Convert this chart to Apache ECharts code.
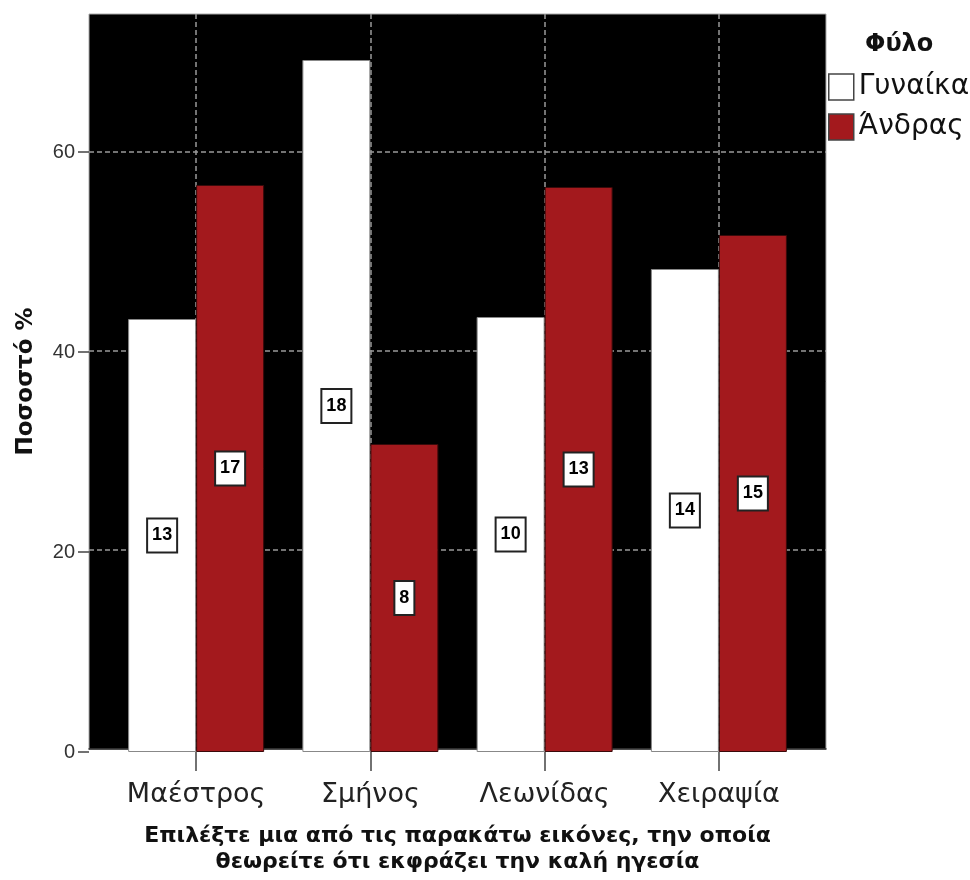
<!DOCTYPE html>
<html>
<head>
<meta charset="utf-8">
<script src="https://cdn.jsdelivr.net/npm/echarts@6/dist/echarts.min.js"></script>
<style>
  html, body { margin: 0; padding: 0; background: #fff; }
  #chart { width: 970px; height: 880px; }
</style>
</head>
<body>
<div id="chart"></div>
<script>
// Categories on the x axis
const categories = ['Μαέστρος', 'Σμήνος', 'Λεωνίδας', 'Χειραψία'];
// Series names
const seriesNames = ['Γυναίκα', 'Άνδρας'];
// Percentage within each category
const womenPct = [43.3, 69.2, 43.5, 48.3];
const menPct = [56.7, 30.8, 56.5, 51.7];
// Counts shown in the bar labels
const womenCount = [13, 18, 10, 14];
const menCount = [17, 8, 13, 15];
// Y axis range and tick values
const yMin = 0;
const yMax = 73.8;
const yStep = 20;
const yTicks = [0, 20, 40, 60];

const FONT = 'DejaVu Sans';
const RED = '#a3191d';
const GRID_LINE = { color: '#999', type: [5, 3], width: 1.5 };

const countLabel = (counts) => ({
  show: true,
  position: 'inside',
  formatter: (p) => String(counts[p.dataIndex]),
  fontFamily: 'Liberation Sans',
  fontWeight: 'bold',
  fontSize: 18,
  color: '#000',
  backgroundColor: '#fff',
  borderColor: '#222',
  borderWidth: 2,
  padding: [8, 4, 6, 4]
});

const chart = echarts.init(document.getElementById('chart'), null, { renderer: 'canvas' });

chart.setOption({
  animation: false,
  backgroundColor: '#fff',
  title: {
    text: 'Φύλο',
    left: 860,
    top: 28,
    textStyle: { fontFamily: FONT, fontWeight: 'bold', fontSize: 24, color: '#111' }
  },
  legend: {
    orient: 'vertical',
    left: 828,
    top: 73,
    padding: 0,
    itemWidth: 25,
    itemHeight: 26,
    itemGap: 12,
    icon: 'rect',
    data: seriesNames,
    itemStyle: { borderColor: '#444', borderWidth: 1.5 },
    textStyle: { fontFamily: FONT, fontSize: 28, color: '#111' }
  },
  grid: [
    // black plot frame
    { left: 89, top: 14, width: 737, height: 738, show: true, backgroundColor: '#000',
      borderColor: '#aaa', borderWidth: 1, containLabel: false },
    // data area, inset by 20px on each side of the frame
    { left: 109, top: 14, width: 697, height: 738, containLabel: false }
  ],
  xAxis: [
    {
      gridIndex: 0, type: 'value', min: 0, max: 1,
      axisLine: { show: true, onZero: false, lineStyle: { color: '#222', width: 1.5 } },
      axisTick: { show: false }, axisLabel: { show: false }, splitLine: { show: false },
      name: 'Επιλέξτε μια από τις παρακάτω εικόνες, την οποία\nθεωρείτε ότι εκφράζει την καλή ηγεσία',
      nameLocation: 'middle',
      nameGap: 74,
      nameTextStyle: { fontFamily: FONT, fontWeight: 'bold', fontSize: 22, color: '#111', lineHeight: 26 }
    },
    {
      gridIndex: 1, type: 'category', data: categories,
      axisLine: { show: false },
      axisTick: { show: true, interval: 0, alignWithLabel: true, length: 19, lineStyle: { color: '#444', width: 1.5 } },
      axisLabel: { interval: 0, fontFamily: FONT, fontSize: 27, color: '#222', margin: 29 },
      splitLine: { show: true, interval: 0, alignWithLabel: true, lineStyle: GRID_LINE }
    }
  ],
  yAxis: [
    {
      // full-width horizontal grid lines and the axis title
      gridIndex: 0, type: 'value', min: yMin, max: yMax, interval: yStep,
      axisLine: { show: false }, axisTick: { show: false }, axisLabel: { show: false },
      splitLine: { show: true, showMinLine: false, showMaxLine: false, lineStyle: GRID_LINE },
      name: 'Ποσοστό %',
      nameLocation: 'middle',
      nameGap: 51,
      nameTextStyle: { fontFamily: FONT, fontWeight: 'bold', fontSize: 23, color: '#111' }
    },
    {
      gridIndex: 1, type: 'value', min: yMin, max: yMax, interval: yStep,
      offset: 20,
      axisLine: { show: false },
      axisTick: { show: true, customValues: yTicks, length: 11, lineStyle: { color: '#444', width: 1.5 } },
      axisLabel: { customValues: yTicks, fontFamily: 'Liberation Sans', fontSize: 20, color: '#333', margin: 14 },
      splitLine: { show: false }
    }
  ],
  series: [
    {
      name: seriesNames[0], type: 'bar', xAxisIndex: 1, yAxisIndex: 1,
      data: womenPct, barWidth: 68, barGap: '0%',
      itemStyle: { color: '#fff', borderColor: '#888', borderWidth: 1 },
      label: countLabel(womenCount)
    },
    {
      name: seriesNames[1], type: 'bar', xAxisIndex: 1, yAxisIndex: 1,
      data: menPct, barWidth: 68, barGap: '0%',
      itemStyle: { color: RED, borderColor: '#3a0a0a', borderWidth: 1 },
      label: countLabel(menCount)
    }
  ]
});
</script>
</body>
</html>
